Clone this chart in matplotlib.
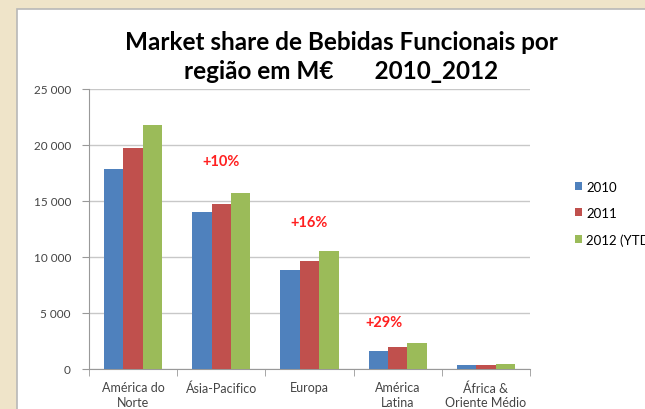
import matplotlib
matplotlib.use("Agg")
import matplotlib.pyplot as plt
import numpy as np
from matplotlib.patches import Rectangle
from matplotlib.ticker import FuncFormatter

regions = ["América do\nNorte", "Ásia-Pacifico", "Europa", "América\nLatina", "África &\nOriente Médio"]
years = ["2010", "2011", "2012 (YTD)"]
v2010 = [17900, 14000, 8800, 1580, 360]
v2011 = [19700, 14760, 9600, 1930, 380]
v2012 = [21800, 15700, 10570, 2320, 420]
growth = ["+10%", "+16%", "+29%"]
growth_pos = [(1, 18600), (2, 13100), (2.85, 4200)]

colors = ["#4f81bd", "#c0504d", "#9bbb59"]

plt.rcParams['font.family'] = ['Lato', 'DejaVu Sans']

fig = plt.figure(figsize=(6.45, 4.1), dpi=100)
fig.patch.set_facecolor("#efe4c9")
fig.patches.append(Rectangle((17/645, -0.1), 1.0, (410-10)/410 + 0.1, transform=fig.transFigure,
                             facecolor="white", edgecolor="#b8b8b8", lw=1.2, zorder=-5))

ax = fig.add_axes([89/645, 40/410, 441/645, 280/410])
ax.set_facecolor("none")

x = np.arange(len(regions))
w = 0.22
for i, vals in enumerate([v2010, v2011, v2012]):
    ax.bar(x + (i - 1) * w, vals, w, color=colors[i], label=years[i], zorder=3)

ax.set_xlim(-0.5, len(regions) - 0.5)
ax.set_ylim(0, 25000)
ax.set_yticks(range(0, 25001, 5000))
ax.yaxis.set_major_formatter(FuncFormatter(lambda v, p: f"{int(v):,}".replace(",", " ")))
ax.grid(axis="y", color="#c8c8c8", lw=1, zorder=0)
ax.set_xticks(x)
ax.set_xticklabels(regions, fontsize=9, color="#444444", va="top", linespacing=1.25)
ax.set_xticks(np.arange(-0.5, len(regions), 1), minor=True)
ax.tick_params(axis="x", which="major", length=0, pad=9)
ax.tick_params(axis="x", which="minor", length=5, color="#999999")
ax.tick_params(axis="y", labelsize=8.5, colors="#444444", length=5, color="#999999", pad=8)
for s in ["top", "right"]:
    ax.spines[s].set_visible(False)
ax.spines["left"].set_color("#999999")
ax.spines["bottom"].set_color("#999999")

for txt, (gx, gy) in zip(growth, growth_pos):
    ax.text(gx, gy, txt, color="#ff2020", fontsize=10.5, fontweight="bold", ha="center", va="center")

fig.text(341/645, 1 - 42/410, "Market share de Bebidas Funcionais por", ha="center", va="center",
         fontsize=17.5, fontweight="bold")
fig.text(341/645, 1 - 72/410, "região em M€       2010_2012", ha="center", va="center",
         fontsize=17.5, fontweight="bold")

leg = fig.legend(loc="upper left", bbox_to_anchor=(563/645, 1 - 170/410), frameon=False,
                 fontsize=9.5, handlelength=0.55, handleheight=0.55, labelspacing=1.08, handletextpad=0.3)

fig.savefig("out.png", dpi=100, facecolor=fig.get_facecolor())
